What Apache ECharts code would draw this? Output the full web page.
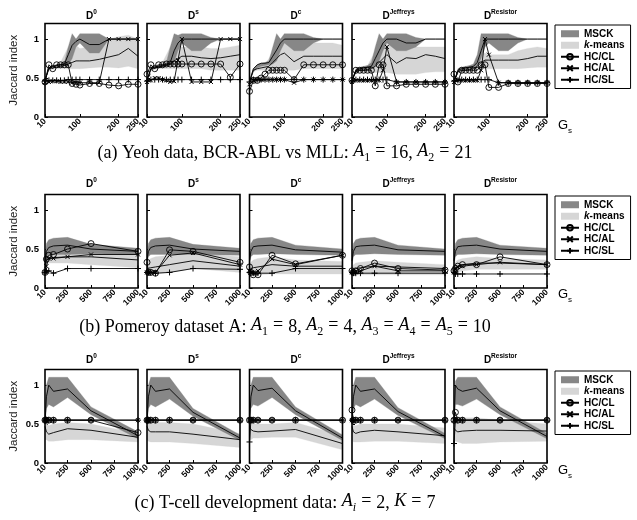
<!DOCTYPE html>
<html><head><meta charset="utf-8">
<script src="https://cdn.jsdelivr.net/npm/echarts@6/dist/echarts.min.js"></script>
<style>html,body{margin:0;padding:0;background:#fff}#c{width:637px;height:520px}</style>
</head><body><div id="c"></div>
<script>
// ---------- x values (G_s) ----------
const gsYeoh = [10,20,30,40,50,60,70,80,90,100,125,150,175,200,225,250];
const gsPomeroy = [10,25,50,100,250,500,1000];
const gsTcell = [10,25,50,100,250,500,1000];
const ticksYeoh = [10,100,200,250];
const ticksBig = [10,250,500,750,1000];
const yTicks = [0,0.5,1];
const panelSup = ['0','s','c','Jeffreys','Resistor'];
const captions = [
  '(a) Yeoh data, BCR-ABL vs MLL: {i|A}{sb|1}{eq|=}16, {i|A}{sb|2}{eq|=}21',
  '(b) Pomeroy dataset A: {i|A}{sb|1}{eq|=}8, {i|A}{sb|2}{eq|=}4, {i|A}{sb|3}{eq|=}{i|A}{sb|4}{eq|=}{i|A}{sb|5}{eq|=}10',
  '(c) T-cell development data: {i|A}{sbi|i}{eq|=}2, {i|K}{eq|=}7'
];

// ---------- (a) Yeoh ----------  panels: D0, Ds, Dc, DJeffreys, DResistor
const yeohMsckMean = [
 [0.47,0.63,0.65,0.66,0.67,0.68,0.8,0.92,0.97,1.0,0.93,0.93,1.0,1.0,1.0,1.0],
 [0.47,0.62,0.64,0.65,0.66,0.67,0.7,0.85,0.95,1.0,1.0,1.0,1.0,1.0,1.0,1.0],
 [0.45,0.62,0.67,0.69,0.69,0.7,0.78,0.86,0.95,1.0,1.0,1.0,1.0,1.0,1.0,1.0],
 [0.47,0.6,0.62,0.63,0.64,0.65,0.75,0.85,0.95,1.0,1.0,0.95,0.95,1.0,1.0,1.0],
 [0.45,0.6,0.62,0.63,0.64,0.65,0.7,0.85,1.0,1.0,1.0,1.0,1.0,1.0,1.0,1.0]];
const yeohMsckLo = [
 [0.47,0.62,0.64,0.65,0.66,0.66,0.66,0.75,0.9,0.95,0.82,0.82,1.0,1.0,1.0,1.0],
 [0.47,0.6,0.62,0.63,0.64,0.65,0.66,0.7,0.85,0.95,0.85,0.85,0.95,1.0,1.0,1.0],
 [0.45,0.58,0.63,0.65,0.66,0.67,0.68,0.72,0.85,0.95,0.85,0.85,0.95,1.0,1.0,1.0],
 [0.47,0.58,0.6,0.61,0.62,0.63,0.65,0.72,0.85,0.95,0.85,0.85,0.9,1.0,1.0,1.0],
 [0.45,0.58,0.6,0.61,0.62,0.63,0.65,0.75,0.9,0.95,0.85,0.85,0.95,1.0,1.0,1.0]];
const yeohMsckHi = [
 [0.47,0.64,0.66,0.67,0.68,0.7,0.9,1.07,1.0,1.07,1.07,1.07,1.0,1.0,1.0,1.0],
 [0.47,0.64,0.66,0.67,0.68,0.7,0.9,1.07,1.05,1.07,1.07,1.07,1.02,1.0,1.0,1.0],
 [0.45,0.62,0.67,0.69,0.7,0.72,0.9,1.07,1.0,1.07,1.07,1.07,1.02,1.0,1.0,1.0],
 [0.47,0.62,0.64,0.65,0.66,0.7,0.9,1.07,1.0,1.07,1.07,1.07,1.02,1.0,1.0,1.0],
 [0.45,0.62,0.64,0.65,0.66,0.68,0.8,1.07,1.07,1.07,1.07,1.07,1.02,1.0,1.0,1.0]];
const yeohKmMean = [
 [0.47,0.62,0.63,0.64,0.65,0.66,0.68,0.7,0.72,0.72,0.72,0.74,0.77,0.8,0.88,0.78],
 [0.47,0.62,0.63,0.64,0.65,0.66,0.68,0.72,0.75,0.78,0.78,0.76,0.75,0.76,0.78,0.8],
 [0.45,0.6,0.62,0.63,0.64,0.65,0.7,0.75,0.8,0.82,0.71,0.78,0.78,0.78,0.78,0.78],
 [0.47,0.58,0.6,0.6,0.61,0.62,0.65,0.7,0.75,0.8,0.69,0.76,0.75,0.8,0.78,0.75],
 [0.45,0.58,0.6,0.6,0.61,0.62,0.65,0.7,0.73,0.73,0.73,0.73,0.73,0.75,0.78,0.78]];
const yeohKmLo = [
 [0.47,0.6,0.61,0.62,0.62,0.62,0.62,0.62,0.62,0.62,0.63,0.64,0.64,0.63,0.65,0.62],
 [0.47,0.6,0.61,0.62,0.62,0.62,0.62,0.62,0.62,0.62,0.62,0.62,0.6,0.6,0.6,0.6],
 [0.45,0.58,0.6,0.6,0.6,0.6,0.6,0.6,0.6,0.6,0.6,0.62,0.62,0.62,0.62,0.62],
 [0.47,0.56,0.57,0.57,0.57,0.57,0.57,0.57,0.57,0.57,0.55,0.55,0.55,0.57,0.58,0.58],
 [0.45,0.56,0.57,0.58,0.58,0.58,0.6,0.62,0.62,0.62,0.62,0.62,0.62,0.63,0.64,0.64]];
const yeohKmHi = [
 [0.47,0.65,0.66,0.68,0.7,0.8,0.9,0.95,0.92,0.88,0.9,0.92,1.0,1.03,1.05,1.0],
 [0.47,0.65,0.66,0.68,0.7,0.8,0.9,0.95,0.92,0.9,0.9,0.9,0.88,0.88,0.9,0.92],
 [0.45,0.62,0.64,0.66,0.68,0.75,0.85,0.92,0.95,0.95,0.9,0.92,0.95,0.95,0.95,0.92],
 [0.47,0.6,0.62,0.64,0.66,0.75,0.85,0.92,0.93,0.93,0.9,0.9,0.9,0.9,0.9,0.9],
 [0.45,0.6,0.62,0.63,0.64,0.66,0.75,0.8,0.82,0.8,0.8,0.8,0.85,0.88,0.9,0.88]];
const yeohCL = [
 [0.45,0.67,0.62,0.67,0.67,0.67,0.67,0.43,0.42,0.41,0.43,0.43,0.41,0.4,0.42,0.42],
 [0.55,0.67,0.62,0.67,0.67,0.68,0.68,0.68,0.68,0.68,0.68,0.68,0.68,0.68,0.51,0.68],
 [0.33,0.47,0.47,0.5,0.55,0.6,0.6,0.6,0.6,0.6,0.48,0.67,0.67,0.67,0.67,0.67],
 [0.47,0.6,0.6,0.6,0.6,0.6,0.4,0.67,0.67,0.4,0.4,0.42,0.42,0.42,0.42,0.42],
 [0.55,0.45,0.6,0.6,0.6,0.6,0.6,0.67,0.67,0.38,0.38,0.43,0.43,0.43,0.43,0.43]];
const yeohAL = [
 [0.45,0.45,0.46,0.46,0.45,0.45,0.45,0.44,0.44,0.44,0.44,0.44,1.0,1.0,1.0,1.0],
 [0.45,0.47,0.5,0.5,0.48,0.47,0.45,0.46,0.73,1.0,0.45,0.45,0.45,1.0,1.0,1.0],
 [0.42,0.47,0.48,0.48,0.48,0.48,0.48,0.48,0.48,0.48,0.44,0.48,0.48,0.48,0.48,0.48],
 [0.45,0.47,0.47,0.47,0.47,0.47,0.47,0.47,0.6,0.9,0.45,0.45,0.45,0.45,0.45,0.45],
 [0.45,0.47,0.47,0.47,0.47,0.47,0.47,0.6,1.0,0.8,0.44,0.44,0.44,0.44,0.44,0.44]];
const yeohSL = [
 [0.46,0.47,0.47,0.47,0.47,0.47,0.48,0.48,0.48,0.48,0.48,0.48,0.48,0.48,0.48,0.48],
 [0.46,0.48,0.48,0.48,0.48,0.48,0.48,0.48,0.48,0.48,0.48,0.48,0.48,0.48,0.48,0.48],
 [0.45,0.48,0.48,0.48,0.48,0.48,0.48,0.48,0.48,0.48,0.48,0.48,0.48,0.48,0.48,0.48],
 [0.46,0.48,0.48,0.48,0.48,0.48,0.48,0.48,0.48,0.48,0.45,0.45,0.45,0.45,0.45,0.45],
 [0.46,0.47,0.48,0.48,0.48,0.48,0.48,0.48,0.48,0.48,0.44,0.44,0.44,0.44,0.44,0.44]];

// ---------- (b) Pomeroy ----------
const pomMsckMean = [
 [0.35,0.47,0.52,0.54,0.55,0.5,0.47],
 [0.35,0.47,0.52,0.54,0.55,0.5,0.47],
 [0.35,0.47,0.53,0.54,0.55,0.49,0.46],
 [0.35,0.47,0.53,0.54,0.55,0.49,0.47],
 [0.35,0.47,0.53,0.54,0.55,0.5,0.47]];
const pomMsckLo = [
 [0.3,0.4,0.43,0.43,0.43,0.44,0.43],
 [0.3,0.4,0.43,0.43,0.43,0.43,0.42],
 [0.3,0.4,0.43,0.43,0.44,0.43,0.42],
 [0.3,0.4,0.43,0.43,0.44,0.43,0.42],
 [0.3,0.4,0.43,0.43,0.44,0.43,0.42]];
const pomMsckHi = [
 [0.4,0.57,0.62,0.64,0.65,0.56,0.51],
 [0.4,0.57,0.62,0.64,0.65,0.56,0.51],
 [0.4,0.57,0.62,0.64,0.65,0.55,0.5],
 [0.4,0.57,0.62,0.64,0.65,0.55,0.5],
 [0.4,0.57,0.62,0.64,0.65,0.55,0.51]];
const pomKmMean = [
 [0.3,0.36,0.38,0.39,0.4,0.4,0.36],
 [0.25,0.25,0.26,0.27,0.3,0.35,0.28],
 [0.22,0.25,0.26,0.27,0.3,0.28,0.28],
 [0.22,0.24,0.25,0.26,0.28,0.27,0.25],
 [0.22,0.26,0.28,0.3,0.32,0.32,0.3]];
const pomKmLo = [
 [0.25,0.3,0.32,0.32,0.32,0.3,0.26],
 [0.2,0.18,0.18,0.18,0.2,0.25,0.2],
 [0.18,0.17,0.17,0.17,0.18,0.18,0.18],
 [0.18,0.17,0.17,0.17,0.17,0.17,0.17],
 [0.18,0.2,0.2,0.22,0.24,0.24,0.24]];
const pomKmHi = [
 [0.35,0.42,0.43,0.44,0.44,0.44,0.42],
 [0.3,0.35,0.38,0.4,0.42,0.45,0.4],
 [0.3,0.33,0.36,0.38,0.4,0.36,0.34],
 [0.28,0.3,0.32,0.33,0.35,0.33,0.3],
 [0.28,0.33,0.36,0.38,0.4,0.38,0.36]];
const pomCL = [
 [0.2,0.37,0.42,0.43,0.5,0.57,0.47],
 [0.33,0.2,0.2,0.19,0.49,0.47,0.33],
 [0.27,0.2,0.17,0.17,0.42,0.31,0.42],
 [0.22,0.2,0.22,0.25,0.32,0.25,0.23],
 [0.22,0.25,0.28,0.3,0.3,0.4,0.3]];
const pomAL = [
 [0.2,0.28,0.38,0.38,0.4,0.43,0.43],
 [0.2,0.2,0.2,0.2,0.42,0.45,0.3],
 [0.22,0.2,0.2,0.22,0.37,0.3,0.42],
 [0.2,0.2,0.2,0.22,0.28,0.22,0.22],
 [0.2,0.24,0.27,0.28,0.3,0.33,0.3]];
const pomSL = [
 [0.2,0.22,0.22,0.19,0.25,0.25,0.25],
 [0.2,0.2,0.2,0.19,0.2,0.25,0.24],
 [0.2,0.2,0.19,0.19,0.19,0.25,0.25],
 [0.2,0.19,0.19,0.19,0.19,0.19,0.19],
 [0.2,0.18,0.18,0.18,0.18,0.18,0.18]];

// ---------- (c) T-cell ----------
const tcMsckMean = [
 [0.5,0.85,1.0,0.92,0.95,0.67,0.35],
 [0.5,0.85,1.0,0.92,0.95,0.65,0.32],
 [0.5,0.85,1.0,0.93,0.96,0.67,0.32],
 [0.5,0.85,1.0,0.92,0.95,0.66,0.34],
 [0.5,1.0,0.95,0.92,0.96,0.67,0.34]];
const tcMsckLo = [
 [0.5,0.7,0.75,0.72,0.84,0.62,0.31],
 [0.5,0.7,0.75,0.72,0.82,0.6,0.29],
 [0.5,0.7,0.75,0.73,0.84,0.62,0.29],
 [0.5,0.7,0.75,0.72,0.82,0.61,0.31],
 [0.5,0.75,0.75,0.73,0.82,0.62,0.31]];
const tcMsckHi = [
 [0.5,1.0,1.1,1.1,1.1,0.72,0.4],
 [0.5,1.0,1.1,1.1,1.1,0.7,0.36],
 [0.5,1.0,1.1,1.1,1.1,0.72,0.36],
 [0.5,1.0,1.1,1.1,1.1,0.71,0.38],
 [0.5,1.05,1.1,1.1,1.1,0.72,0.38]];
const tcKmMean = [
 [0.47,0.4,0.37,0.39,0.44,0.42,0.33],
 [0.47,0.42,0.4,0.4,0.4,0.37,0.3],
 [0.47,0.43,0.41,0.4,0.41,0.43,0.25],
 [0.47,0.4,0.38,0.4,0.42,0.4,0.35],
 [0.45,0.42,0.4,0.41,0.42,0.42,0.41]];
const tcKmLo = [
 [0.3,0.3,0.28,0.28,0.3,0.3,0.27],
 [0.3,0.28,0.27,0.27,0.27,0.25,0.2],
 [0.3,0.3,0.32,0.32,0.33,0.33,0.17],
 [0.3,0.27,0.27,0.27,0.28,0.28,0.25],
 [0.3,0.28,0.27,0.25,0.25,0.27,0.28]];
const tcKmHi = [
 [0.5,0.5,0.48,0.5,0.52,0.5,0.38],
 [0.5,0.52,0.52,0.52,0.52,0.5,0.38],
 [0.5,0.5,0.5,0.5,0.5,0.52,0.35],
 [0.5,0.48,0.48,0.5,0.5,0.5,0.45],
 [0.5,0.55,0.58,0.58,0.58,0.55,0.5]];
const tcCL = [
 [0.55,0.55,0.55,0.55,0.55,0.55,0.39],
 [0.55,0.55,0.55,0.55,0.55,0.55,0.55],
 [0.55,0.55,0.55,0.55,0.55,0.55,0.55],
 [0.68,0.55,0.55,0.55,0.55,0.55,0.55],
 [0.55,0.65,0.55,0.55,0.55,0.55,0.55]];
const tcAL = [
 [0.55,0.55,0.55,0.55,0.55,0.55,0.55],
 [0.55,0.55,0.55,0.55,0.55,0.55,0.55],
 [0.55,0.55,0.55,0.55,0.55,0.55,0.55],
 [0.55,0.55,0.55,0.55,0.55,0.55,0.55],
 [0.55,0.55,0.55,0.55,0.55,0.55,0.55]];
const tcSL = [
 [0.55,0.55,0.55,0.55,0.55,0.55,0.55],
 [0.55,0.55,0.55,0.55,0.55,0.55,0.55],
 [0.27,0.55,0.55,0.55,0.55,0.55,0.55],
 [0.55,0.55,0.55,0.55,0.55,0.55,0.55],
 [0.25,0.55,0.55,0.55,0.55,0.55,0.55]];

// ---------- layout / styles ----------
const FONT = "'Liberation Sans', Arial, Helvetica, sans-serif";
const SERIF = "'Liberation Serif', 'Times New Roman', serif";
const DARK = '#878787', LIGHT = '#d6d6d6';
const panelLefts = [45, 147, 249.5, 352, 454];
const panelW = 93, panelH = 93.5;
const rowTops = [23.5, 194.5, 369.5];
const titleY = [15, 183, 359];
const captionY = [153, 327, 503];
const captionX = 285;
const gsLabelY = [127, 296, 472];

const rows = [
 {x: gsYeoh, xmax: 250, ticks: ticksYeoh, mM: yeohMsckMean, mL: yeohMsckLo, mH: yeohMsckHi, kM: yeohKmMean, kL: yeohKmLo, kH: yeohKmHi, cl: yeohCL, al: yeohAL, sl: yeohSL},
 {x: gsPomeroy, xmax: 1000, ticks: ticksBig, mM: pomMsckMean, mL: pomMsckLo, mH: pomMsckHi, kM: pomKmMean, kL: pomKmLo, kH: pomKmHi, cl: pomCL, al: pomAL, sl: pomSL},
 {x: gsTcell, xmax: 1000, ticks: ticksBig, mM: tcMsckMean, mL: tcMsckLo, mH: tcMsckHi, kM: tcKmMean, kL: tcKmLo, kH: tcKmHi, cl: tcCL, al: tcAL, sl: tcSL}
];

const grids = [], xAxes = [], yAxes = [], series = [], graphics = [], legends = [];
const symX = 'path://M0,0L10,10M10,0L0,10';
const symPlus = 'path://M5,0L5,10M0,5L10,5';

rows.forEach((r, ri) => {
  for (let p = 0; p < 5; p++) {
    const g = grids.length;
    grids.push({left: panelLefts[p], top: rowTops[ri], width: panelW, height: panelH,
      show: true, borderColor: '#000', borderWidth: 1.6, backgroundColor: 'transparent', z: 5});
    xAxes.push({gridIndex: g, type: 'value', min: 10, max: r.xmax,
      axisLine: {show: false}, splitLine: {show: false},
      axisTick: {show: true, inside: true, length: 3, customValues: r.ticks, lineStyle: {color: '#000', width: 1}},
      axisLabel: {customValues: r.ticks, rotate: 45, fontSize: 8.5, fontWeight: 'bold', color: '#000', margin: 3,
        fontFamily: FONT, formatter: v => String(v)}});
    yAxes.push({gridIndex: g, type: 'value', min: 0, max: 1.2,
      axisLine: {show: false}, splitLine: {show: false},
      axisTick: {show: true, inside: true, length: 3, customValues: yTicks, lineStyle: {color: '#000', width: 1}},
      axisLabel: {show: p === 0, customValues: yTicks, fontSize: 9.5, fontWeight: 'bold', color: '#000', margin: 6, fontFamily: FONT},
      name: p === 0 ? 'Jaccard index' : '', nameLocation: 'middle', nameGap: 25,
      nameTextStyle: {fontSize: 11.5, color: '#222', fontFamily: FONT}});
    const xs = r.x;
    const zip = ys => xs.map((x, i) => [x, ys[i]]);
    const band = (name, hi, lo, color) => ({
      type: 'custom', name, xAxisIndex: g, yAxisIndex: g, clip: true, silent: true, z: 1,
      data: xs.map((x, i) => [x, hi[i], lo[i]]), encode: {x: 0, y: 1},
      itemStyle: {color},
      renderItem: (params, api) => {
        if (params.dataIndex !== 0) return null;
        const top = xs.map((x, i) => api.coord([x, hi[i]]));
        const bot = xs.map((x, i) => api.coord([x, lo[i]])).reverse();
        return {type: 'polygon', shape: {points: top.concat(bot)}, style: {fill: color, stroke: color, lineWidth: 0.3}};
      }
    });
    series.push(band('k-means', r.kH[p], r.kL[p], LIGHT));
    series.push(band('MSCK', r.mH[p], r.mL[p], DARK));
    const meanLine = (data) => ({type: 'line', xAxisIndex: g, yAxisIndex: g, data, symbol: 'none',
      lineStyle: {color: '#000', width: 0.9}, silent: true, z: 2});
    series.push(meanLine(zip(r.kM[p])));
    series.push(meanLine(zip(r.mM[p])));
    series.push({type: 'line', name: 'HC/CL', xAxisIndex: g, yAxisIndex: g, data: zip(r.cl[p]),
      symbol: 'circle', symbolSize: 6, lineStyle: {color: '#000', width: 0.9},
      itemStyle: {color: 'rgba(0,0,0,0)', borderColor: '#000', borderWidth: 0.9}, z: 3});
    series.push({type: 'line', name: 'HC/AL', xAxisIndex: g, yAxisIndex: g, data: zip(r.al[p]),
      symbol: symX, symbolSize: 4, lineStyle: {color: '#000', width: 0.9},
      itemStyle: {color: '#000', borderColor: '#000', borderWidth: 1}, z: 3});
    series.push({type: 'line', name: 'HC/SL', xAxisIndex: g, yAxisIndex: g, data: zip(r.sl[p]),
      symbol: symPlus, symbolSize: 6, lineStyle: {color: '#000', width: 0.9},
      itemStyle: {color: '#000', borderColor: '#000', borderWidth: 1}, z: 3});
    graphics.push({type: 'text', x: panelLefts[p] + panelW / 2, y: titleY[ri],
      style: {text: '{b|D}{s|' + panelSup[p] + '}', align: 'center', verticalAlign: 'middle', textAlign: 'center', textVerticalAlign: 'middle',
        rich: {b: {fontSize: 10, fontWeight: 'bold', fontFamily: FONT, lineHeight: 13, verticalAlign: 'bottom', fill: '#000'},
               s: {fontSize: 6.5, fontWeight: 'bold', fontFamily: FONT, lineHeight: 13, verticalAlign: 'top', fill: '#000'}}}});
  }
  legends.push({orient: 'vertical', left: 555, top: rowTops[ri] + 1.5, padding: [3, 6, 3, 5],
    borderColor: '#000', borderWidth: 1, backgroundColor: '#fff', itemWidth: 18, itemHeight: 7, itemGap: 0,
    selectedMode: false,
    textStyle: {fontSize: 10, fontWeight: 'bold', color: '#000', fontFamily: FONT, lineHeight: 11.5,
      rich: {i: {fontSize: 10, fontWeight: 'bold', fontStyle: 'italic', color: '#000', fontFamily: FONT, lineHeight: 11.5}}},
    formatter: n => n === 'k-means' ? '{i|k}-means' : n,
    data: [{name: 'MSCK', icon: 'rect', itemStyle: {color: DARK}},
           {name: 'k-means', icon: 'rect', itemStyle: {color: LIGHT}},
           'HC/CL', 'HC/AL', 'HC/SL']});
  graphics.push({type: 'text', x: captionX, y: captionY[ri],
    style: {text: captions[ri], align: 'center', verticalAlign: 'middle', textAlign: 'center', textVerticalAlign: 'middle',
      rich: {i: {fontSize: 18, fontStyle: 'italic', fontFamily: SERIF, fill: '#000', lineHeight: 21, verticalAlign: 'top'},
             eq: {fontSize: 18, fontFamily: SERIF, fill: '#000', lineHeight: 21, verticalAlign: 'top', padding: [0, 5, 0, 5]},
             sb: {fontSize: 12, fontFamily: SERIF, fill: '#000', lineHeight: 21, verticalAlign: 'bottom'},
             sbi: {fontSize: 12, fontStyle: 'italic', fontFamily: SERIF, fill: '#000', lineHeight: 21, verticalAlign: 'bottom'}},
      font: '18px ' + SERIF, fontSize: 18, fontFamily: SERIF, fill: '#000', lineHeight: 21}});
  graphics.push({type: 'text', x: 558, y: gsLabelY[ri],
    style: {text: '{g|G}{s|s}', align: 'left', verticalAlign: 'middle', textAlign: 'left', textVerticalAlign: 'middle',
      rich: {g: {fontSize: 13, fontFamily: FONT, fill: '#000', lineHeight: 16, verticalAlign: 'top'},
             s: {fontSize: 8, fontFamily: FONT, fill: '#000', lineHeight: 16, verticalAlign: 'bottom'}}}});
});

const chart = echarts.init(document.getElementById('c'), null, {renderer: 'canvas'});
chart.setOption({
  animation: false,
  backgroundColor: '#fff',
  grid: grids, xAxis: xAxes, yAxis: yAxes, series, legend: legends, graphic: graphics
});
</script></body></html>
